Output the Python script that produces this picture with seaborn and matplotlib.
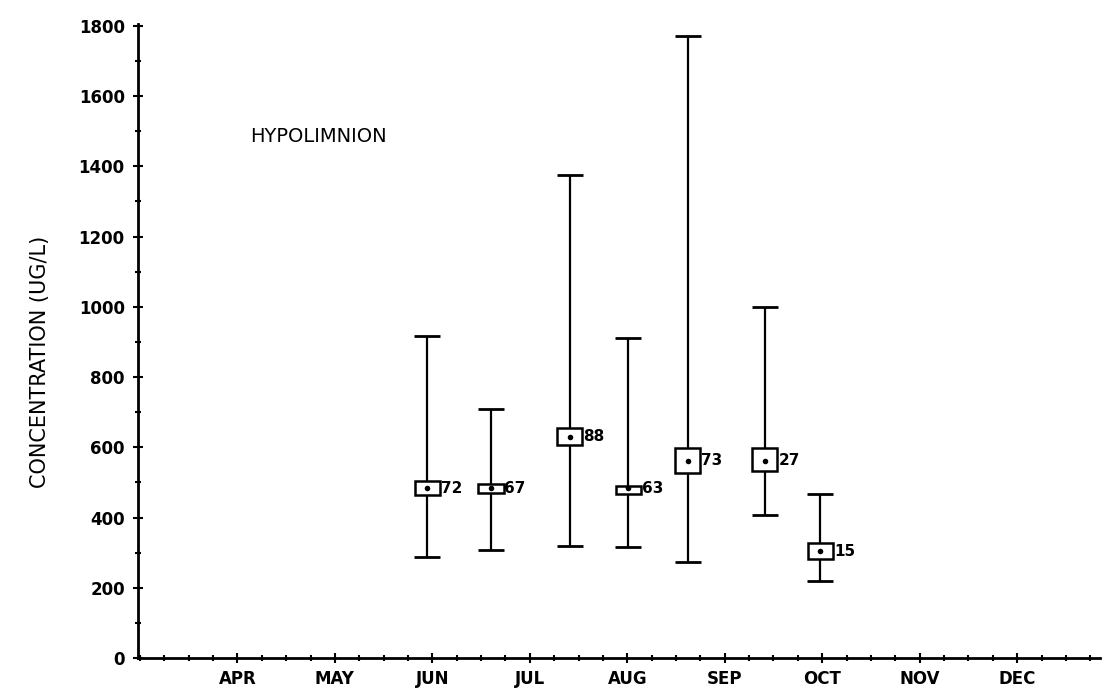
import matplotlib
matplotlib.use("Agg")
import matplotlib.pyplot as plt
from matplotlib.ticker import MultipleLocator, FixedLocator
import seaborn as sns
import pandas as pd

# ---- data ----
months = ["APR", "MAY", "JUN", "JUL", "AUG", "SEP", "OCT", "NOV", "DEC"]
month_pos = [4, 5, 6, 7, 8, 9, 10, 11, 12]
sample_x = [5.95, 6.60, 7.41, 8.01, 8.62, 9.41, 9.98]
means = [483, 483, 630, 483, 562, 562, 304]
lows = [287, 307, 318, 315, 273, 406, 220]
highs = [917, 710, 1374, 911, 1772, 1000, 468]
box_lo = [463, 471, 605, 466, 528, 531, 281]
box_hi = [503, 494, 656, 491, 599, 599, 327]
counts = ["72", "67", "88", "63", "73", "27", "15"]
y_ticks = [0, 200, 400, 600, 800, 1000, 1200, 1400, 1600, 1800]
title_text = "HYPOLIMNION"
y_label = "CONCENTRATION (UG/L)"

df = pd.DataFrame({"x": sample_x, "mean": means, "lo": lows, "hi": highs,
                   "blo": box_lo, "bhi": box_hi, "n": counts})

sns.set_theme(style="ticks")
plt.rcParams["font.family"] = ["DejaVu Sans"]

fig = plt.figure(figsize=(11.07, 6.96), dpi=100)
ax = fig.add_axes([138 / 1107, 38 / 696, 962 / 1107, 634 / 696])

# error bars (range)
ax.errorbar(df["x"], df["mean"],
            yerr=[df["mean"] - df["lo"], df["hi"] - df["mean"]],
            fmt="none", ecolor="black", elinewidth=1.6, capsize=9.5,
            capthick=2.0, zorder=2)

# boxes
box_w = 0.26
ax.bar(df["x"], df["bhi"] - df["blo"], bottom=df["blo"], width=box_w,
       facecolor="white", edgecolor="black", linewidth=1.8, zorder=3)

# mean dots
sns.scatterplot(data=df, x="x", y="mean", ax=ax, color="black", s=16,
                edgecolor="black", linewidth=0, zorder=4, legend=False)

# count labels
for xi, yi, n in zip(df["x"], df["mean"], df["n"]):
    ax.text(xi + box_w / 2 + 0.01, yi, n, ha="left", va="center",
            fontsize=11, fontweight="bold", color="black", zorder=5)

ax.text(4.13, 1485, title_text, ha="left", va="center", fontsize=14,
        color="black")

ax.set_xlim(2.98, 12.85)
ax.set_ylim(0, 1805)
ax.xaxis.set_major_locator(FixedLocator(month_pos))
ax.set_xticklabels(months, fontsize=12, fontweight="bold")
ax.xaxis.set_minor_locator(MultipleLocator(0.25))
ax.set_yticks(y_ticks)
ax.set_yticklabels([str(v) for v in y_ticks], fontsize=12, fontweight="bold")
ax.yaxis.set_minor_locator(MultipleLocator(100))

ax.tick_params(axis="both", which="major", direction="inout", length=7,
               width=1.5, color="black", labelcolor="black")
ax.tick_params(axis="x", which="major", pad=5)
ax.tick_params(axis="y", which="major", pad=6)
ax.tick_params(axis="both", which="minor", direction="inout", length=4,
               width=1.5, color="black")

ax.set_xlabel("")
ax.set_ylabel(y_label, fontsize=15, color="black", labelpad=0)
ax.yaxis.set_label_coords(-0.0915, 0.467)

for s in ["top", "right"]:
    ax.spines[s].set_visible(False)
for s in ["left", "bottom"]:
    ax.spines[s].set_color("black")
    ax.spines[s].set_linewidth(2.0)

ax.set_facecolor("white")
fig.patch.set_facecolor("white")
fig.savefig("out.png", dpi=100, facecolor="white")
